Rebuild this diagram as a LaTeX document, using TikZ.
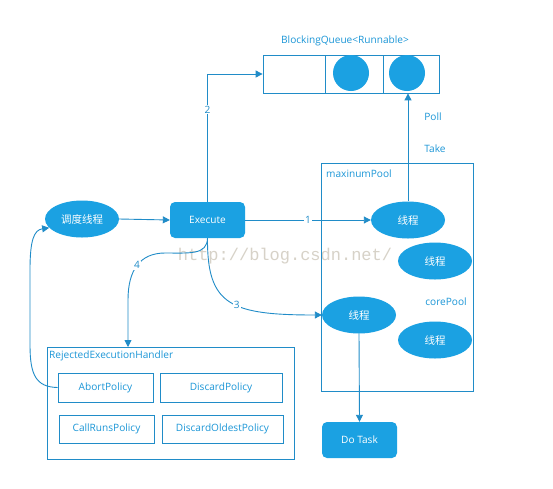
\documentclass[tikz,border=0pt]{standalone}
\usepackage{fontspec}
\setmainfont{Open Sans}
\newfontfamily\cjk{Noto Sans CJK SC}
\newfontfamily\wmfont{Liberation Mono}
\usetikzlibrary{arrows.meta,shapes.geometric}
\definecolor{bl}{RGB}{27,161,226}
\definecolor{ln}{RGB}{32,140,200}
\definecolor{tx}{RGB}{27,150,215}
\definecolor{wm}{RGB}{215,210,200}
\begin{document}
\begin{tikzpicture}[x=1pt,y=-1pt,
  font=\fontsize{10.1}{12}\selectfont,
  ell/.style={ellipse, fill=bl, draw=none, minimum width=74pt, minimum height=37pt, inner sep=0pt, text=white, font=\cjk\fontsize{10.5}{12}\selectfont},
  rbox/.style={rectangle, rounded corners=5pt, fill=bl, minimum width=75pt, minimum height=36pt, inner sep=0pt, text=white},
  frame/.style={draw=ln, line width=0.8pt, inner sep=0pt},
  pol/.style={draw=ln, line width=0.8pt, inner sep=0pt, text=tx},
  conn/.style={draw=ln, line width=0.9pt, -{Triangle[length=7pt,width=7pt]}},
  lab/.style={fill=white, inner sep=1pt, text=ln},
  txt/.style={text=tx, inner sep=0pt}]
\useasboundingbox (0,0) rectangle (553,488);
\fill[white] (0,0) rectangle (553,488);
% watermark
\node[text=wm, font=\wmfont\fontsize{17}{17}\selectfont, inner sep=0pt] (wmk) at (285,256) {http://blog.csdn.net/};
% queue
\node[txt] (bqlabel) at (345,41) {BlockingQueue<Runnable>};
\node[frame, minimum width=62pt, minimum height=38pt] (q1) at (294,74) {};
\node[frame, minimum width=58pt, minimum height=38pt] (q2) at (354,74) {};
\node[frame, minimum width=56pt, minimum height=38pt] (q3) at (411,74) {};
\node[circle, fill=bl, minimum size=36pt, inner sep=0pt] (c1) at (351,73) {};
\node[circle, fill=bl, minimum size=36pt, inner sep=0pt] (c2) at (407,73) {};
\node[txt] (poll) at (433,117) {Poll};
\node[txt] (take) at (435,149) {Take};
% pools
\node[frame, minimum width=152pt, minimum height=228pt] (maxp) at (397,277) {};
\node[txt, anchor=west] (maxl) at (326,174) {maxinumPool};
\node[txt] (corel) at (446,302) {corePool};
\node[ell] (t1) at (408,220) {线程};
\node[ell] (t2) at (435,261) {线程};
\node[ell] (t3) at (359,315) {线程};
\node[ell] (t4) at (435,340) {线程};
% left
\node[ell] (ddx) at (82,219) {调度线程};
\node[rbox] (exec) at (207.5,220) {Execute};
\node[rbox] (dotask) at (359.5,440) {Do Task};
% rejected handler
\node[frame, minimum width=247pt, minimum height=112pt] (reh) at (170.5,403) {};
\node[txt, anchor=west] (rehl) at (49,356) {RejectedExecutionHandler};
\node[pol, minimum width=95pt, minimum height=29pt] (abort) at (105.5,387.5) {AbortPolicy};
\node[pol, minimum width=122pt, minimum height=29pt] (discard) at (221,387.5) {DiscardPolicy};
\node[pol, minimum width=95pt, minimum height=28pt] (callruns) at (106.5,429) {CallRunsPolicy};
\node[pol, minimum width=121pt, minimum height=28pt] (oldest) at (222.5,429) {DiscardOldestPolicy};
\coordinate (rehin) at (128,347);
% connectors
\draw[conn] (ddx.east) -- (exec.west);
\draw[conn] (exec.east) -- node[lab]{1} (t1.west);
\draw[conn] (exec.north) |- node[lab, pos=0.36]{2} (q1.west);
\draw[conn] (t1.north) -- (t1.north |- q3.south);
\draw[conn] (exec.south) .. controls (207,305) and (230,315) .. node[lab, pos=0.56]{3} (t3.west);
\draw[conn] (exec.south) .. controls (207,255) and (190,253) .. (165,253) .. controls (140,253) and (128,270) .. node[lab]{4} (128,300) -- (rehin);
\draw[conn] (abort.west) .. controls (36,387) and (30,375) .. (30,345) -- (30,270) .. controls (30,240) and (34,230) .. (ddx.195);
\draw[conn] (t3.south) -- (dotask.north);
\end{tikzpicture}
\end{document}
